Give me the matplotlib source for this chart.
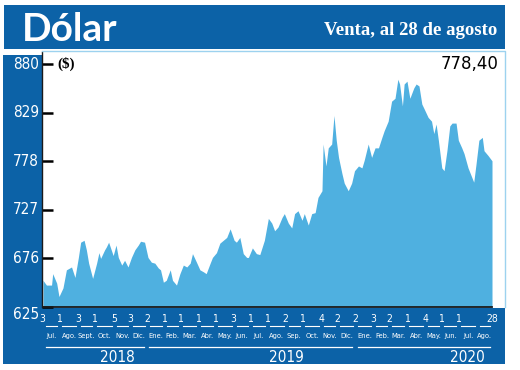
"""
Dólar - venta, al 28 de agosto
gráfico de área con marco azul (estilo diario)
"""
import pandas as pd
import matplotlib
matplotlib.use('Agg')
import matplotlib.pyplot as plt
import matplotlib.dates as mdates
from matplotlib.patches import Rectangle
from matplotlib.lines import Line2D
from matplotlib.transforms import blended_transform_factory

# datos
fechas = ['2018-07-03', '2018-07-09', '2018-07-18', '2018-07-20', '2018-07-27', '2018-07-31',
          '2018-08-07', '2018-08-13', '2018-08-22', '2018-08-28', '2018-09-03', '2018-09-07',
          '2018-09-13', '2018-09-17', '2018-09-21', '2018-09-28', '2018-10-05', '2018-10-09',
          '2018-10-12', '2018-10-19', '2018-10-22', '2018-10-26', '2018-11-03', '2018-11-08',
          '2018-11-12', '2018-11-18', '2018-11-23', '2018-11-29', '2018-12-05', '2018-12-11',
          '2018-12-17', '2018-12-21', '2018-12-28', '2019-01-03', '2019-01-09', '2019-01-15',
          '2019-01-21', '2019-01-25', '2019-01-30', '2019-02-04', '2019-02-11', '2019-02-15',
          '2019-02-22', '2019-02-28', '2019-03-06', '2019-03-12', '2019-03-18', '2019-03-22',
          '2019-03-29', '2019-04-04', '2019-04-10', '2019-04-15', '2019-04-22', '2019-04-26',
          '2019-05-03', '2019-05-09', '2019-05-15', '2019-05-21', '2019-05-27', '2019-06-03',
          '2019-06-07', '2019-06-13', '2019-06-19', '2019-06-25', '2019-06-28', '2019-07-05',
          '2019-07-12', '2019-07-18', '2019-07-26', '2019-08-02', '2019-08-08', '2019-08-13',
          '2019-08-19', '2019-08-26', '2019-08-30', '2019-09-06', '2019-09-12', '2019-09-17',
          '2019-09-23', '2019-09-30', '2019-10-04', '2019-10-11', '2019-10-17', '2019-10-23',
          '2019-10-28', '2019-11-04', '2019-11-06', '2019-11-11', '2019-11-15', '2019-11-21',
          '2019-11-25', '2019-11-29', '2019-12-03', '2019-12-09', '2019-12-13', '2019-12-20',
          '2019-12-26', '2019-12-31', '2020-01-07', '2020-01-13', '2020-01-17', '2020-01-24',
          '2020-01-30', '2020-02-05', '2020-02-11', '2020-02-17', '2020-02-21', '2020-02-28',
          '2020-03-05', '2020-03-11', '2020-03-16', '2020-03-19', '2020-03-24', '2020-03-27',
          '2020-04-01', '2020-04-06', '2020-04-13', '2020-04-17', '2020-04-22', '2020-04-27',
          '2020-05-01', '2020-05-08', '2020-05-14', '2020-05-18', '2020-05-22', '2020-05-26',
          '2020-06-01', '2020-06-05', '2020-06-10', '2020-06-15', '2020-06-19', '2020-06-26',
          '2020-06-30', '2020-07-06', '2020-07-10', '2020-07-17', '2020-07-21', '2020-07-27',
          '2020-07-31', '2020-08-05', '2020-08-11', '2020-08-14', '2020-08-21', '2020-08-28']
valores = [653, 648, 648, 660, 650, 636,
           645, 664, 667, 656, 677, 693,
           695, 685, 671, 655, 671, 682,
           676, 685, 688, 693, 679, 690,
           677, 669, 674, 667, 677, 685,
           690, 694, 693, 677, 672, 671,
           666, 664, 651, 653, 664, 653,
           648, 660, 669, 667, 671, 681,
           672, 664, 662, 660, 671, 677,
           682, 692, 695, 698, 707, 695,
           693, 698, 681, 677, 677, 687,
           681, 680, 695, 718, 713, 705,
           709, 719, 723, 713, 708, 723,
           726, 716, 723, 711, 723, 724,
           740, 747, 796, 773, 792, 796,
           826, 800, 782, 765, 755, 747,
           755, 768, 773, 771, 779, 796,
           782, 792, 792, 803, 810, 820,
           841, 844, 864, 859, 836, 859,
           862, 844, 855, 859, 857, 838,
           833, 824, 820, 807, 817, 800,
           771, 768, 789, 815, 818, 818,
           800, 792, 786, 771, 765, 756,
           775, 800, 803, 789, 784, 778.4]

y_ticks = [625, 676, 727, 778, 829, 880]

# eje inferior: inicio de cada mes, día impreso y nombre del mes
inicio_mes = ['2018-07-03', '2018-08-01', '2018-09-03', '2018-10-01', '2018-11-05', '2018-12-03',
              '2019-01-02', '2019-02-01', '2019-03-01', '2019-04-01', '2019-05-02', '2019-06-03',
              '2019-07-01', '2019-08-01', '2019-09-02', '2019-10-01', '2019-11-04', '2019-12-02',
              '2020-01-02', '2020-02-03', '2020-03-02', '2020-04-01', '2020-05-04', '2020-06-01',
              '2020-07-01', '2020-08-03']
dias = ['3', '1', '3', '1', '5', '3', '2', '1', '1', '1', '1', '3', '1',
        '1', '2', '1', '4', '2', '2', '3', '2', '1', '4', '1', '1', '']
meses = ['Jul.', 'Ago.', 'Sept.', 'Oct.', 'Nov.', 'Dic.', 'Ene.', 'Feb.', 'Mar.', 'Abr.', 'May.', 'Jun.',
         'Jul.', 'Ago.', 'Sep.', 'Oct.', 'Nov.', 'Dic.', 'Ene.', 'Feb.', 'Mar.', 'Abr.', 'May.', 'Jun.',
         'Jul.', 'Ago.']
fin = '2020-08-28'
fin_dia = '28'

anios = ['2018', '2019', '2020']
anio_desde = ['2018-07-03', '2019-01-01', '2020-01-01']
anio_hasta = ['2018-12-31', '2019-12-31', '2020-08-28']
anio_texto = ['2018-11-11', '2019-09-03', '2020-07-15']

ultimo = '778,40'

# ---------------------------------------------------------------
W, H = 520, 370
AZUL = '#0c62a7'
CELESTE = '#4fb0e0'
BORDE = '#9dd2ef'
# letra angosta (si existe la variante condensada)
ANGOSTA = dict(family='DejaVu Sans', fontstretch='condensed')

fig = plt.figure(figsize=(W / 100, H / 100), dpi=100)


def fx(px):
    return px / W


def fy(py):
    return 1 - py / H


def caja(x0, y0, x1, y1):
    fig.add_artist(Rectangle((fx(x0), fy(y1)), (x1 - x0) / W, (y1 - y0) / H,
                             transform=fig.transFigure, color=AZUL, lw=0, zorder=-1))


# marco azul
caja(4, 5, 505, 49)      # cabecera
caja(3, 55, 42, 364)     # franja izquierda
caja(3, 308, 505, 364)   # franja inferior

fig.text(fx(22), fy(41), 'Dólar', color='white', fontsize=28, fontweight='bold',
         family='Lato', ha='left', va='baseline')
fig.text(fx(497), fy(35), 'Venta, al 28 de agosto', color='white', fontsize=13.5,
         family='Liberation Serif', fontweight='bold', ha='right', va='baseline')

# área del gráfico
ax = fig.add_axes([fx(42), fy(307), (505 - 42) / W, (307 - 52) / H])
x = pd.to_datetime(fechas)
ax.fill_between(x, valores, 625, color=CELESTE, lw=0)

d0 = mdates.date2num(x[0])
d1 = mdates.date2num(x[-1])
dpp = (d1 - d0) / (492 - 43)   # días por pixel
ax.plot([x[0], x[-1]], [625, 625], color='#1a1a1a', lw=1.3, clip_on=False)
ax.set_xlim(d0 - 1 * dpp, d1 + 13 * dpp)
ax.set_ylim(625, 625 + (307 - 52) * 255 / 243)

for s in ['top', 'right', 'bottom']:
    ax.spines[s].set_visible(False)
ax.spines['left'].set_color('#1a1a1a')
ax.spines['left'].set_linewidth(1)
ax.set_xticks([])
ax.set_yticks(y_ticks)
ax.set_yticklabels([])
ax.tick_params(axis='y', direction='in', length=8, width=1.8, color='black')

ty = blended_transform_factory(ax.transAxes, ax.transData)
for v in y_ticks:
    ax.text(-3 / 463, v, str(v), transform=ty, color='white', fontsize=11, **ANGOSTA,
            ha='right', va='top' if v == 625 else 'center', clip_on=False)

ax.text(15 / 463, 880, '($)', transform=ty, fontsize=11, fontweight='bold',
        family='Liberation Serif', va='center', ha='left')
ax.text(456 / 463, 880, ultimo, transform=ty, fontsize=12, family='DejaVu Sans',
        va='center', ha='right')

# borde celeste arriba y a la derecha
fig.add_artist(Line2D([fx(42), fx(505), fx(505)], [fy(51), fy(51), fy(307)],
                      transform=fig.transFigure, color=BORDE, lw=1, zorder=2))

# etiquetas del eje de tiempo
tb = blended_transform_factory(ax.transData, fig.transFigure)
bordes = list(pd.to_datetime(inicio_mes)) + [pd.Timestamp(fin)]
gap = 2.5 * dpp
for i in range(len(inicio_mes)):
    a = mdates.date2num(bordes[i])
    b = mdates.date2num(bordes[i + 1])
    ax.text(a - 0.5 * dpp, fy(322), dias[i], transform=tb, color='white', fontsize=7.5,
            **ANGOSTA, ha='center', va='baseline', clip_on=False)
    ax.plot([a + gap, b - gap], [fy(326), fy(326)], transform=tb, color='white', lw=0.8,
            clip_on=False)
    ax.text((a + b) / 2, fy(336), meses[i], transform=tb, color='white', fontsize=5.4,
            **ANGOSTA, ha='center', va='center', clip_on=False)
ax.text(d1, fy(322), fin_dia, transform=tb, color='white', fontsize=7.5, **ANGOSTA,
        ha='center', va='baseline', clip_on=False)

for nombre, desde, hasta, pos in zip(anios, anio_desde, anio_hasta, anio_texto):
    a = mdates.date2num(pd.Timestamp(desde))
    b = mdates.date2num(pd.Timestamp(hasta))
    ax.plot([a + gap, b - gap], [fy(347), fy(347)], transform=tb, color='white', lw=0.9,
            clip_on=False)
    ax.text(mdates.date2num(pd.Timestamp(pos)), fy(357), nombre, transform=tb, color='white',
            fontsize=11, **ANGOSTA, ha='center', va='center', clip_on=False)

fig.savefig('out.png', dpi=100)
